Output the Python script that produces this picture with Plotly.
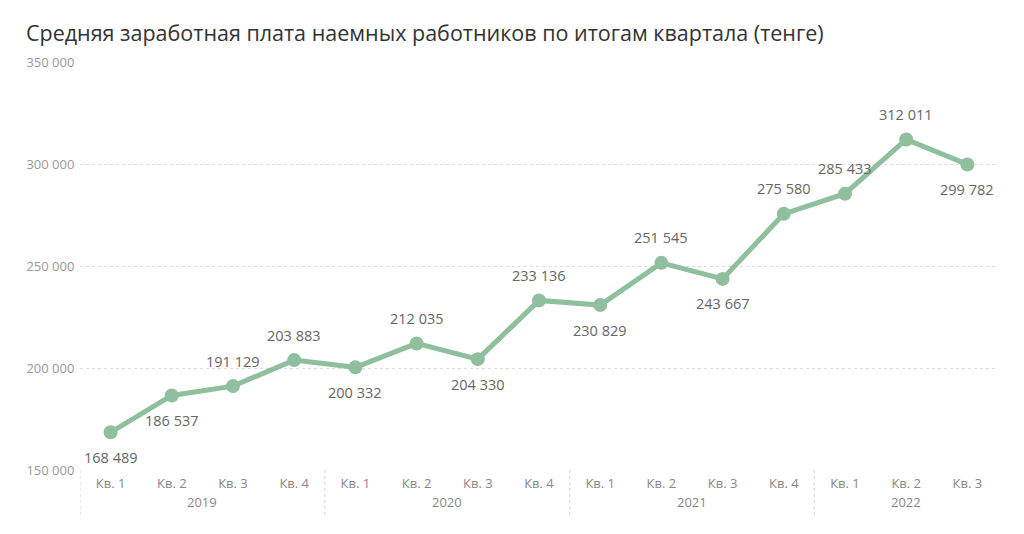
import plotly.graph_objects as go

years = ["2019", "2020", "2021", "2022"]
quarters = ["Кв. 1", "Кв. 2", "Кв. 3", "Кв. 4",
            "Кв. 1", "Кв. 2", "Кв. 3", "Кв. 4",
            "Кв. 1", "Кв. 2", "Кв. 3", "Кв. 4",
            "Кв. 1", "Кв. 2", "Кв. 3"]
quarter_year = ["2019"] * 4 + ["2020"] * 4 + ["2021"] * 4 + ["2022"] * 3
salary = [168489, 186537, 191129, 203883,
          200332, 212035, 204330, 233136,
          230829, 251545, 243667, 275580,
          285433, 312011, 299782]
label_side = ["below", "below", "above", "above",
              "below", "above", "below", "above",
              "below", "above", "below", "above",
              "above", "above", "below"]
y_ticks = [150000, 200000, 250000, 300000, 350000]

def fmt(v):
    return f"{v:,}".replace(",", " ")

FONT = "Open Sans, sans-serif"
xs = list(range(len(salary)))
line_color = "#8fbf9d"

fig = go.Figure()
fig.add_trace(go.Scatter(
    x=xs, y=salary, mode="lines+markers",
    line=dict(color=line_color, width=5),
    marker=dict(color=line_color, size=14),
    hoverinfo="skip", showlegend=False, cliponaxis=False,
))

annotations = []
for x, v, side in zip(xs, salary, label_side):
    annotations.append(dict(
        x=x, y=v, xref="x", yref="y", text=fmt(v), showarrow=False,
        yshift=25 if side == "above" else -25,
        font=dict(family=FONT, size=14.5, color="#666666"),
    ))

# year labels centred under their quarters
for yr in years:
    idx = [i for i, q in enumerate(quarter_year) if q == yr]
    center = (idx[0] + idx[-1]) / 2
    annotations.append(dict(
        x=center, y=0, xref="x", yref="paper", text=yr, showarrow=False,
        yanchor="middle", yshift=-32,
        font=dict(family=FONT, size=13, color="#888888"),
    ))

shapes = []
starts = [quarter_year.index(yr) for yr in years]
for s in starts:
    shapes.append(dict(
        type="line", xref="x", yref="paper", x0=s - 0.5, x1=s - 0.5,
        y0=0, y1=-0.11, line=dict(color="#dddddd", width=1.2, dash="dot"),
    ))

fig.update_layout(
    width=1016, height=526,
    paper_bgcolor="white", plot_bgcolor="white",
    margin=dict(l=72, r=26, t=54, b=64),
    separators=", ",
    title=dict(
        text="Средняя заработная плата наемных работников по итогам квартала (тенге)",
        x=0.0177, xanchor="left", y=0.952, yanchor="middle",
        font=dict(family=FONT, size=21.5, color="#333333"),
    ),
    xaxis=dict(
        range=[-0.5, len(salary) - 0.5], tickvals=xs, ticktext=quarters,
        showgrid=False, zeroline=False, showline=False,
        ticks="outside", ticklen=1, tickcolor="rgba(0,0,0,0)",
        tickfont=dict(family=FONT, size=13, color="#888888"),
    ),
    yaxis=dict(
        range=[150000, 350000], tickvals=y_ticks, tickformat=",d",
        showgrid=True, gridcolor="#dddddd", griddash="dot", gridwidth=1.2,
        zeroline=False, showline=False, ticks="outside", ticklen=2,
        tickcolor="rgba(0,0,0,0)",
        tickfont=dict(family=FONT, size=13, color="#999999"),
    ),
    annotations=annotations,
    shapes=shapes,
)

fig.write_html("out.html")
